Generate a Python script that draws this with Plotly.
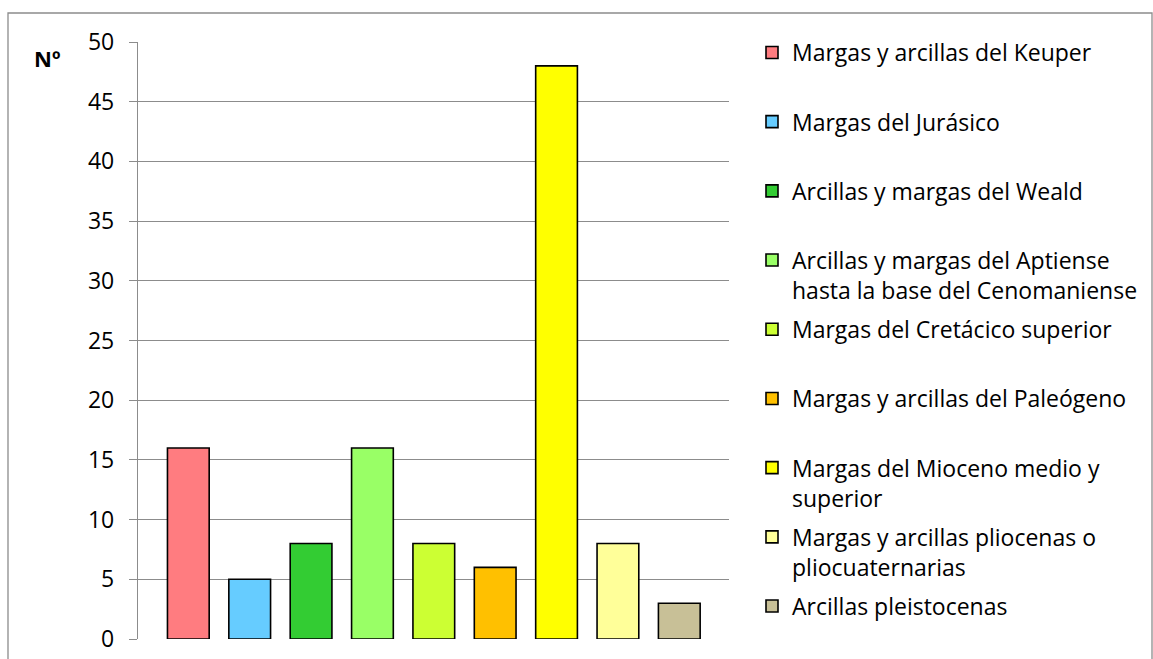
import plotly.graph_objects as go

# Number of cases per lithological unit
unidades = [
    "Margas y arcillas del Keuper",
    "Margas del Jurásico",
    "Arcillas y margas del Weald",
    "Arcillas y margas del Aptiense<br>hasta la base del Cenomaniense",
    "Margas del Cretácico superior",
    "Margas y arcillas del Paleógeno",
    "Margas del Mioceno medio y<br>superior",
    "Margas y arcillas pliocenas o<br>pliocuaternarias",
    "Arcillas pleistocenas",
]
casos = [16, 5, 8, 16, 8, 6, 48, 8, 3]
colores = ["#FF7C80", "#66CCFF", "#33CC33", "#99FF66", "#CCFF33",
           "#FFC000", "#FFFF00", "#FFFF99", "#C8C097"]
ticks_y = [0, 5, 10, 15, 20, 25, 30, 35, 40, 45, 50]

FONT = "Open Sans"

fig = go.Figure()
for i, (nombre, valor, color) in enumerate(zip(unidades, casos, colores)):
    # every entry takes two text lines so the legend rows are evenly spaced
    etiqueta = nombre if "<br>" in nombre else nombre + "<br> "
    fig.add_trace(go.Bar(
        x=[i], y=[valor], name=etiqueta, width=0.68,
        legendgroup=f"g{i}",
        marker=dict(color=color, line=dict(color="#000000", width=1.6)),
    ))

W, H = 1153, 659
L, R, T, B = 138, 424, 42, 20
pw, ph = W - L - R, H - T - B

def px(x):
    return (x - L) / pw

def py(y):
    return (H - B - y) / ph

fig.update_layout(
    width=W, height=H,
    margin=dict(l=L, r=R, t=T, b=B, autoexpand=False),
    paper_bgcolor="white", plot_bgcolor="white",
    barmode="overlay",
    font=dict(family=FONT, size=23, color="#000000"),
    showlegend=True,
    legend=dict(
        x=px(752), y=py(31), xanchor="left", yanchor="top",
        valign="top", tracegroupgap=6.4, maxheight=645,
        font=dict(family=FONT, size=23, color="#000000"),
        bgcolor="rgba(0,0,0,0)", borderwidth=0,
    ),
    xaxis=dict(range=[-0.82, 8.81], showticklabels=False, showgrid=False,
               zeroline=False, showline=False, ticks=""),
    yaxis=dict(range=[0, 50], tickvals=ticks_y, ticktext=[str(t) for t in ticks_y],
               showgrid=True, gridcolor="#8C8C8C", gridwidth=1.3,
               zeroline=False, showline=True, linecolor="#8C8C8C", linewidth=1.3,
               ticks="outside", ticklen=8, tickcolor="#8C8C8C", tickwidth=1.3,
               ticklabelstandoff=10,
               tickfont=dict(family=FONT, size=23, color="#000000")),
    annotations=[dict(
        text="<b>Nº</b>", xref="paper", yref="paper",
        x=px(32), y=py(58), xanchor="left", yanchor="middle",
        showarrow=False, font=dict(family=FONT, size=22, color="#000000"),
    )],
    shapes=[dict(
        type="rect", xref="paper", yref="paper",
        x0=px(8), x1=px(1152), y0=py(700), y1=py(13),
        line=dict(color="#8C8C8C", width=1.3), fillcolor="rgba(0,0,0,0)",
        layer="below",
    )],
)

fig.write_html("out.html")
